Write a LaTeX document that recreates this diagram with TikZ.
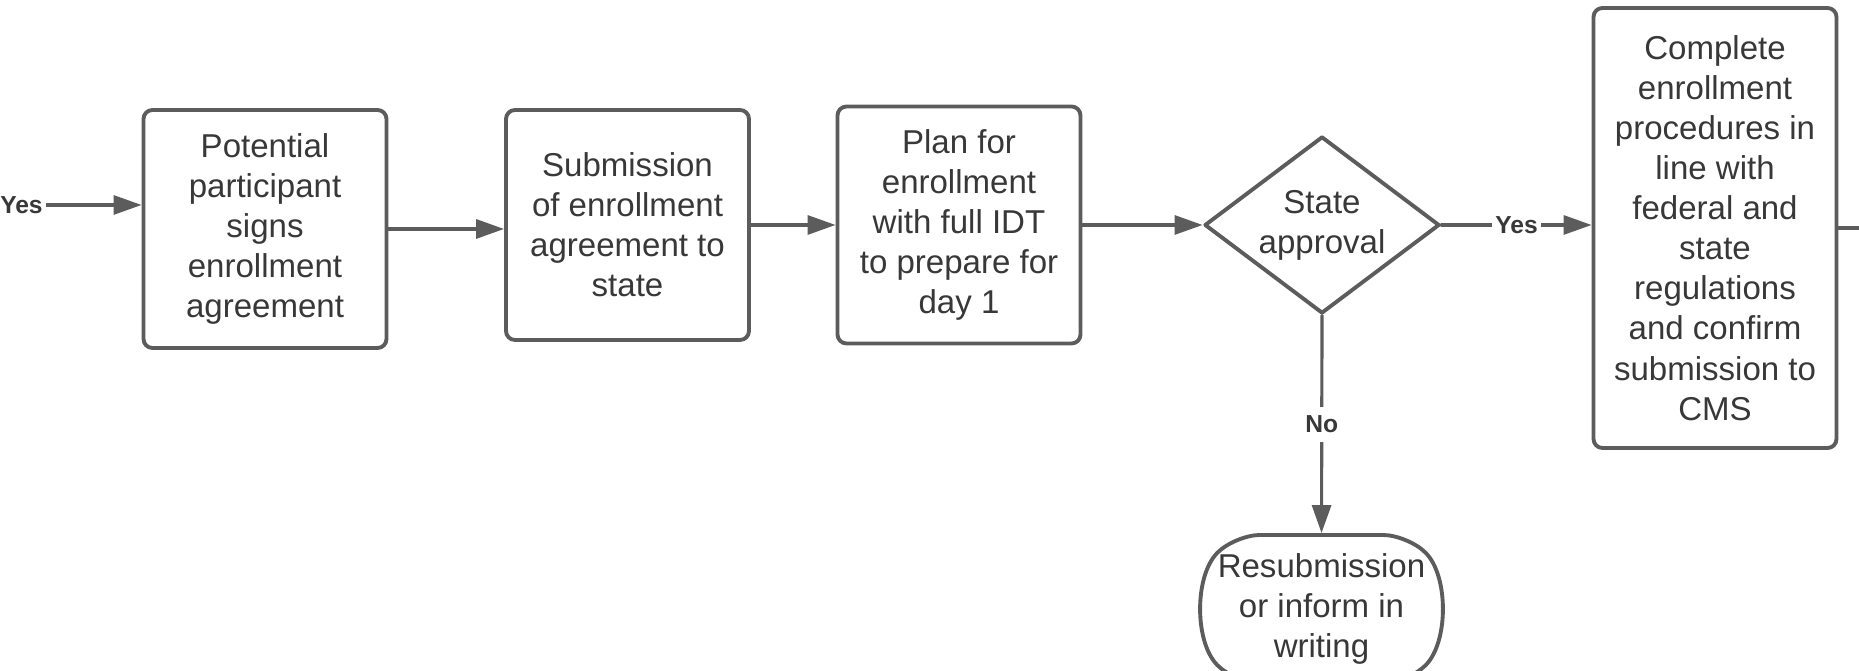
\documentclass[tikz,border=0pt]{standalone}
\usepackage{fontspec}
\setmainfont{Liberation Sans}
\usetikzlibrary{arrows.meta,shapes.geometric,shapes.misc}

\definecolor{linegray}{HTML}{5C5C5C}
\definecolor{textgray}{HTML}{383838}

\begin{document}
\begin{tikzpicture}[line cap=round, line join=round]
  \tikzset{
    proc_box/.style={rectangle, rounded corners=0.9mm, draw=linegray, line width=1.1pt,
      minimum width=2.43cm, inner sep=0pt, align=center, text=textgray,
      font=\fontsize{9.4pt}{11.4pt}\selectfont},
    decision/.style={diamond, draw=linegray, line width=1.1pt, inner sep=0pt,
      minimum width=2.35cm, minimum height=1.77cm},
    terminal/.style={rounded rectangle, rounded rectangle arc length=90, rounded corners=2.5mm,
      draw=linegray, line width=1.1pt, inner sep=0pt, minimum width=2.34cm, minimum height=1.48cm},
    inside/.style={align=center, text=textgray, font=\fontsize{9.4pt}{11.4pt}\selectfont},
    flow/.style={draw=linegray, line width=0.9pt, -{Triangle[length=2.8mm, width=1.9mm]}},
    flow_label/.style={fill=white, inner sep=1pt, text=textgray,
      font=\fontsize{7pt}{8pt}\selectfont\bfseries}
  }

  % page frame, everything outside is cut off
  \fill[white] (0,0) rectangle (18.59,6.71);
  \useasboundingbox (0,0) rectangle (18.59,6.71);
  \clip (0,0) rectangle (18.59,6.71);

  % steps
  \node[proc_box, minimum height=2.38cm] (signs) at (2.65,4.42)
    {Potential\\participant\\signs\\enrollment\\agreement};
  \node[proc_box, minimum height=2.30cm] (submit) at (6.275,4.46)
    {Submission\\of enrollment\\agreement to\\state};
  \node[proc_box, minimum height=2.37cm] (plan) at (9.59,4.46)
    {Plan for\\enrollment\\with full IDT\\to prepare for\\day 1};
  \node[decision, label={[inside]center:State\\approval}] (approval) at (13.22,4.46) {};
  \node[proc_box, minimum height=4.40cm] (complete) at (17.15,4.43)
    {Complete\\enrollment\\procedures in\\line with\\federal and\\state\\regulations\\and confirm\\submission to\\CMS};
  \node[terminal, label={[inside]center:Resubmission\\or inform in\\writing}] (resubmit) at (13.215,0.62) {};

  % loose ends running off the page
  \coordinate (prev) at (-0.3,4.66);
  \coordinate (next) at (19.2,4.43);

  % connectors
  \draw[flow] (prev) -- node[flow_label, pos=0.30] {Yes} (prev -| signs.west);
  \draw[flow] (signs.east) -- (signs.east -| submit.west);
  \draw[flow] (submit.east) -- (plan.west);
  \draw[flow] (plan.east) -- (approval.west);
  \draw[flow] (approval.east) -- node[flow_label] {Yes} (approval.east -| complete.west);
  \draw[flow] (approval.south) -- node[flow_label, inner ysep=2.5pt] {No} (resubmit.north);
  \draw[flow] (complete.east) -- (next);

\end{tikzpicture}
\end{document}
